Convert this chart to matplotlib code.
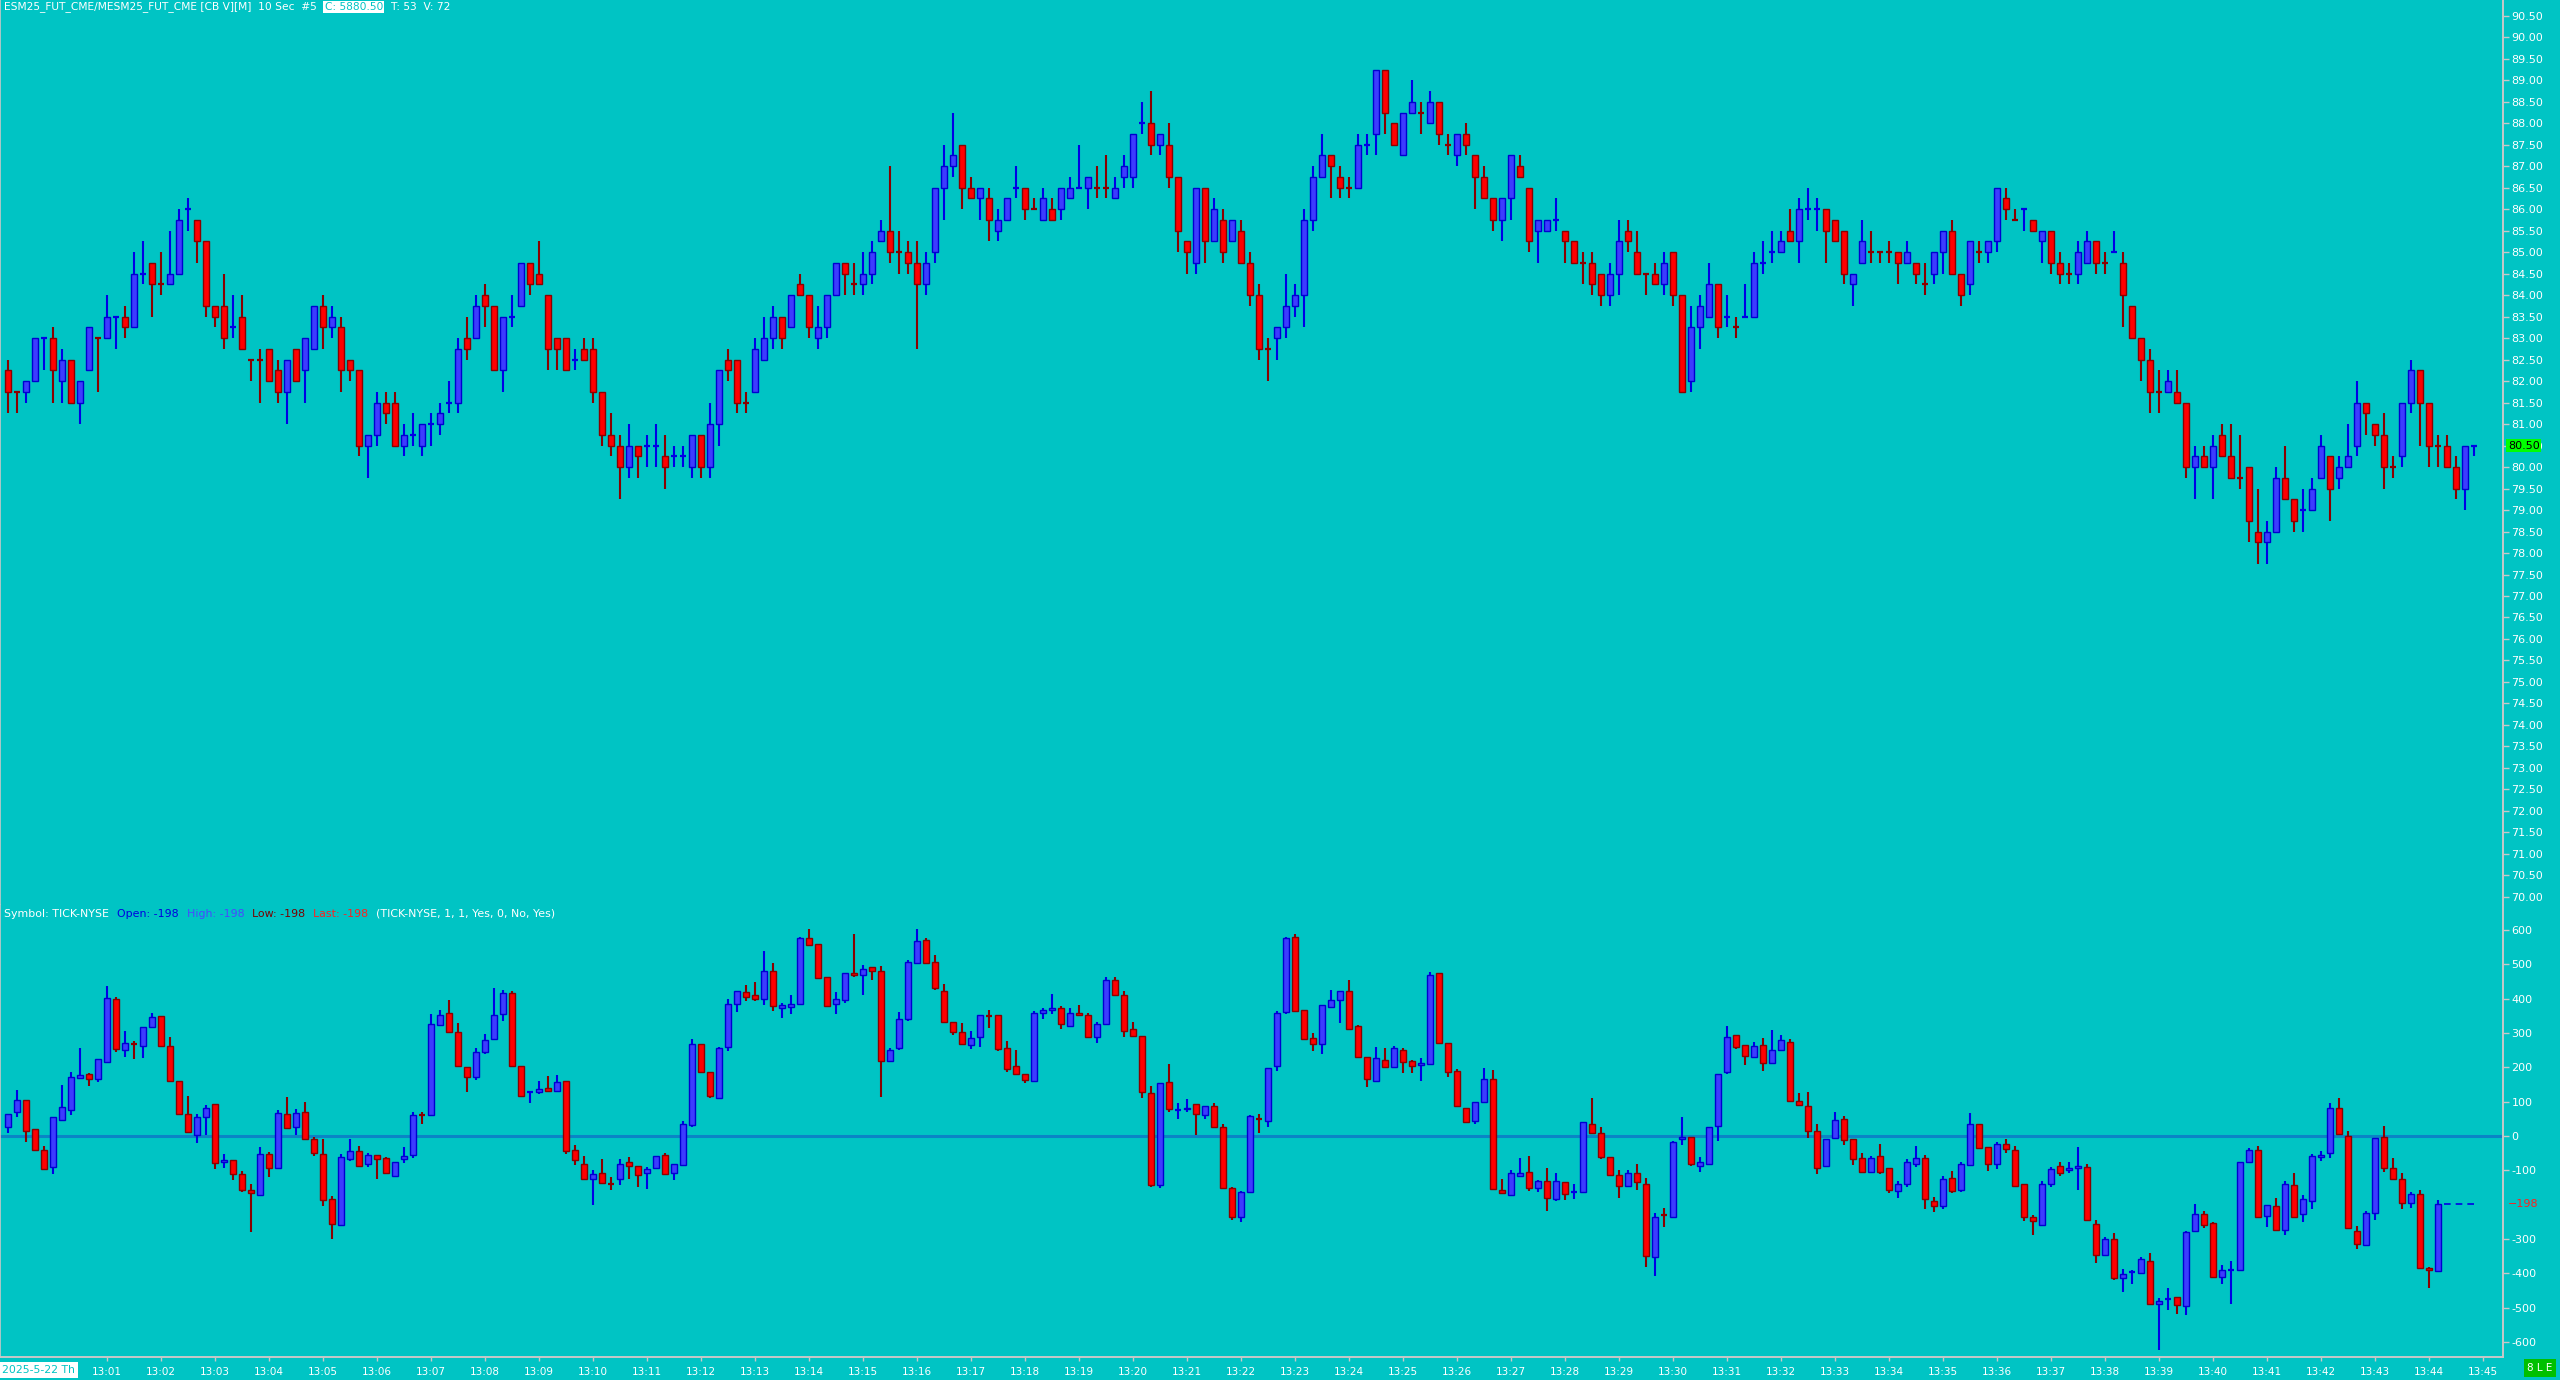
import numpy as np
import matplotlib
matplotlib.use("Agg")
import matplotlib.pyplot as plt
from matplotlib.transforms import blended_transform_factory

# ---- data -------------------------------------------------------------
# ES 10 sec bars, prices shown as the last two digits (base 5800)
price_base = 5800
p_open = [
    82.25, 81.75, 81.75, 82.0, 83.0, 83.0, 82.0, 82.50, 81.50, 82.25,
    83.0, 83.0, 83.50, 83.50, 83.25, 84.50, 84.75, 84.25, 84.25, 84.50,
    86.0, 85.75, 85.25, 83.75, 83.75, 83.25, 83.50, 82.50, 82.50, 82.75,
    82.25, 81.75, 82.75, 82.25, 82.75, 83.75, 83.25, 83.25, 82.50, 82.25,
    80.50, 80.75, 81.50, 81.50, 80.50, 80.75, 80.50, 81.0, 81.0, 81.50,
    81.50, 83.0, 83.0, 84.0, 83.75, 82.25, 83.50, 83.75, 84.75, 84.50,
    84.0, 83.0, 83.0, 82.50, 82.75, 82.75, 81.75, 80.75, 80.50, 80.0,
    80.50, 80.50, 80.50, 80.25, 80.25, 80.25, 80.0, 80.75, 80.0, 81.0,
    82.50, 82.50, 81.50, 81.75, 82.50, 83.0, 83.50, 83.25, 84.25, 84.0,
    83.0, 83.25, 84.0, 84.75, 84.25, 84.25, 84.50, 85.25, 85.50, 85.0,
    85.0, 84.75, 84.25, 85.0, 86.50, 87.0, 87.50, 86.50, 86.25, 86.25,
    85.50, 85.75, 86.50, 86.50, 86.0, 85.75, 86.0, 86.0, 86.25, 86.50,
    86.50, 86.50, 86.50, 86.25, 86.75, 86.75, 88.0, 88.0, 87.50, 87.50,
    86.75, 85.25, 84.75, 86.50, 85.25, 85.75, 85.25, 85.50, 84.75, 84.0,
    82.75, 83.0, 83.25, 83.75, 84.0, 85.75, 86.75, 87.25, 86.75, 86.50,
    86.50, 87.50, 87.75, 89.25, 88.0, 87.25, 88.25, 88.25, 88.0, 88.50,
    87.50, 87.25, 87.75, 87.25, 86.75, 86.25, 85.75, 86.25, 87.0, 86.50,
    85.50, 85.50, 85.75, 85.50, 85.25, 84.75, 84.75, 84.50, 84.0, 84.50,
    85.50, 85.0, 84.50, 84.50, 84.25, 85.0, 84.0, 82.0, 83.25, 83.50,
    84.25, 83.50, 83.25, 83.50, 83.50, 84.75, 85.0, 85.0, 85.50, 85.25,
    86.0, 86.0, 86.0, 85.75, 85.50, 84.25, 84.75, 85.0, 85.0, 85.0,
    85.0, 84.75, 84.75, 84.25, 84.50, 85.0, 85.50, 84.50, 84.25, 85.0,
    85.0, 85.25, 86.25, 85.75, 86.0, 85.75, 85.25, 85.50, 84.75, 84.50,
    84.50, 84.75, 85.25, 84.75, 85.0, 84.75, 83.75, 83.0, 82.50, 81.75,
    81.75, 81.75, 81.50, 80.0, 80.25, 80.0, 80.75, 80.25, 79.75, 80.0,
    78.50, 78.25, 78.50, 79.75, 79.25, 79.0, 79.0, 79.75, 80.25, 79.75,
    80.0, 80.50, 81.50, 81.0, 80.75, 80.0, 80.25, 81.50, 82.25, 81.50,
    80.50, 80.50, 80.0, 79.50, 80.50,
]
p_high = [
    82.50, 81.75, 82.0, 83.0, 83.0, 83.25, 82.75, 82.50, 82.0, 83.25,
    83.0, 84.0, 83.50, 83.75, 85.0, 85.25, 84.75, 85.0, 85.50, 86.0,
    86.25, 85.75, 85.25, 83.75, 84.50, 84.0, 84.0, 82.50, 82.75, 82.75,
    82.50, 82.50, 82.75, 83.0, 83.75, 84.0, 83.75, 83.50, 82.50, 82.25,
    80.75, 81.75, 81.75, 81.75, 81.0, 81.25, 81.0, 81.25, 81.50, 82.0,
    83.0, 83.50, 84.0, 84.25, 83.75, 83.50, 84.0, 84.75, 84.75, 85.25,
    84.0, 83.0, 83.0, 82.75, 83.0, 83.0, 81.75, 81.25, 80.75, 81.0,
    80.50, 80.75, 81.0, 80.75, 80.50, 80.50, 80.75, 80.75, 81.50, 82.25,
    82.75, 82.50, 81.75, 83.0, 83.50, 83.75, 83.50, 84.0, 84.50, 84.0,
    83.75, 84.0, 84.75, 84.75, 84.75, 85.0, 85.25, 85.75, 87.0, 85.50,
    85.25, 85.25, 85.0, 86.50, 87.50, 88.25, 87.50, 86.75, 86.50, 86.50,
    86.0, 86.25, 87.0, 86.50, 86.25, 86.50, 86.25, 86.50, 86.75, 87.50,
    86.75, 87.0, 87.25, 86.75, 87.25, 87.75, 88.50, 88.75, 87.75, 88.0,
    86.75, 85.25, 86.50, 86.50, 86.25, 86.0, 85.75, 85.75, 85.0, 84.25,
    83.0, 83.25, 84.50, 84.25, 86.0, 87.0, 87.75, 87.25, 87.0, 86.75,
    87.75, 87.75, 89.25, 89.25, 88.0, 88.25, 89.0, 88.50, 88.75, 88.50,
    87.75, 87.75, 88.0, 87.25, 87.0, 86.25, 86.25, 87.25, 87.25, 86.50,
    85.75, 85.75, 86.25, 85.50, 85.25, 85.0, 85.0, 84.50, 84.75, 85.75,
    85.75, 85.50, 84.50, 84.75, 85.0, 85.0, 84.0, 83.75, 84.0, 84.75,
    84.25, 84.0, 83.50, 84.25, 85.0, 85.25, 85.50, 85.50, 86.0, 86.25,
    86.50, 86.25, 86.0, 85.75, 85.50, 84.50, 85.75, 85.50, 85.0, 85.25,
    85.0, 85.25, 84.75, 84.75, 85.0, 85.50, 85.75, 84.50, 85.25, 85.25,
    85.25, 86.50, 86.50, 86.0, 86.0, 85.75, 85.50, 85.50, 85.0, 84.75,
    85.25, 85.50, 85.25, 85.0, 85.50, 85.0, 83.75, 83.0, 82.75, 82.25,
    82.25, 82.25, 81.50, 80.50, 80.50, 80.75, 81.0, 81.0, 80.75, 80.0,
    79.50, 78.75, 80.0, 80.50, 79.25, 79.50, 79.75, 80.75, 80.25, 80.25,
    81.0, 82.0, 81.50, 81.0, 81.25, 80.25, 81.50, 82.50, 82.25, 81.50,
    80.75, 80.75, 80.25, 80.50, 80.50,
]
p_low = [
    81.25, 81.25, 81.50, 82.0, 82.25, 81.50, 81.50, 81.50, 81.0, 82.25,
    81.75, 83.0, 82.75, 83.0, 83.25, 84.25, 83.50, 84.0, 84.25, 84.50,
    85.50, 84.75, 83.50, 83.25, 82.75, 83.0, 82.75, 82.0, 81.50, 82.0,
    81.50, 81.0, 82.0, 81.50, 82.75, 82.75, 83.0, 81.75, 82.0, 80.25,
    79.75, 80.50, 81.0, 80.50, 80.25, 80.50, 80.25, 80.50, 80.75, 81.25,
    81.25, 82.50, 83.0, 83.25, 82.25, 81.75, 83.25, 83.75, 84.0, 84.25,
    82.25, 82.25, 82.25, 82.25, 82.50, 81.50, 80.50, 80.25, 79.25, 79.75,
    79.75, 80.0, 80.0, 79.50, 80.0, 80.0, 79.75, 79.75, 79.75, 80.50,
    82.0, 81.25, 81.25, 81.75, 82.50, 82.75, 82.75, 83.25, 84.0, 83.0,
    82.75, 83.0, 84.0, 84.0, 84.0, 84.0, 84.25, 85.25, 84.75, 84.50,
    84.50, 82.75, 84.0, 84.75, 85.75, 86.75, 86.0, 86.25, 85.75, 85.25,
    85.25, 85.75, 86.25, 85.75, 86.0, 85.75, 85.75, 85.75, 86.25, 86.50,
    86.0, 86.25, 86.25, 86.25, 86.50, 86.50, 87.75, 87.25, 87.25, 86.50,
    85.0, 84.50, 84.50, 84.75, 85.25, 84.75, 85.25, 84.75, 83.75, 82.50,
    82.0, 82.50, 83.0, 83.50, 83.25, 85.50, 86.75, 86.25, 86.25, 86.25,
    86.50, 87.25, 87.25, 87.75, 87.50, 87.25, 88.25, 87.75, 88.0, 87.50,
    87.25, 87.0, 87.25, 86.0, 86.25, 85.50, 85.25, 85.75, 86.75, 85.0,
    84.75, 85.50, 85.50, 84.75, 84.75, 84.25, 84.0, 83.75, 83.75, 84.0,
    85.0, 84.50, 84.0, 84.25, 84.0, 83.75, 81.75, 81.75, 82.75, 83.50,
    83.0, 83.25, 83.0, 83.50, 83.50, 84.50, 84.75, 85.0, 85.25, 84.75,
    85.75, 85.50, 84.75, 85.25, 84.25, 83.75, 84.75, 84.75, 84.75, 84.75,
    84.25, 84.75, 84.25, 84.0, 84.25, 84.50, 84.50, 83.75, 84.0, 84.75,
    84.75, 85.0, 85.75, 85.75, 85.50, 85.50, 84.75, 84.50, 84.25, 84.25,
    84.25, 84.75, 84.50, 84.50, 85.0, 83.25, 83.0, 82.0, 81.25, 81.25,
    81.75, 81.50, 79.75, 79.25, 80.0, 79.25, 80.25, 79.75, 79.50, 78.25,
    77.75, 77.75, 78.50, 79.25, 78.50, 78.50, 79.0, 79.75, 78.75, 79.50,
    80.0, 80.25, 80.75, 80.50, 79.50, 79.75, 80.0, 81.25, 80.50, 80.0,
    80.0, 80.0, 79.25, 79.0, 80.25,
]
p_close = [
    81.75, 81.75, 82.0, 83.0, 83.0, 82.25, 82.50, 81.50, 82.0, 83.25,
    83.0, 83.50, 83.50, 83.25, 84.50, 84.50, 84.25, 84.25, 84.50, 85.75,
    86.0, 85.25, 83.75, 83.50, 83.0, 83.25, 82.75, 82.50, 82.50, 82.0,
    81.75, 82.50, 82.0, 83.0, 83.75, 83.25, 83.50, 82.25, 82.25, 80.50,
    80.75, 81.50, 81.25, 80.50, 80.75, 80.75, 81.0, 81.0, 81.25, 81.50,
    82.75, 82.75, 83.75, 83.75, 82.25, 83.50, 83.50, 84.75, 84.25, 84.25,
    82.75, 82.75, 82.25, 82.50, 82.50, 81.75, 80.75, 80.50, 80.0, 80.50,
    80.25, 80.50, 80.50, 80.0, 80.25, 80.25, 80.75, 80.0, 81.0, 82.25,
    82.25, 81.50, 81.50, 82.75, 83.0, 83.50, 83.0, 84.0, 84.0, 83.25,
    83.25, 84.0, 84.75, 84.50, 84.25, 84.50, 85.0, 85.50, 85.0, 85.0,
    84.75, 84.25, 84.75, 86.50, 87.0, 87.25, 86.50, 86.25, 86.50, 85.75,
    85.75, 86.25, 86.50, 86.0, 86.0, 86.25, 85.75, 86.50, 86.50, 86.50,
    86.75, 86.50, 86.50, 86.50, 87.0, 87.75, 88.0, 87.50, 87.75, 86.75,
    85.50, 85.0, 86.50, 85.25, 86.0, 85.0, 85.75, 84.75, 84.0, 82.75,
    82.75, 83.25, 83.75, 84.0, 85.75, 86.75, 87.25, 87.0, 86.50, 86.50,
    87.50, 87.50, 89.25, 88.25, 87.50, 88.25, 88.50, 88.25, 88.50, 87.75,
    87.50, 87.75, 87.50, 86.75, 86.25, 85.75, 86.25, 87.25, 86.75, 85.25,
    85.75, 85.75, 85.75, 85.25, 84.75, 84.75, 84.25, 84.0, 84.50, 85.25,
    85.25, 84.50, 84.50, 84.25, 84.75, 84.0, 81.75, 83.25, 83.75, 84.25,
    83.25, 83.50, 83.25, 83.50, 84.75, 84.75, 85.0, 85.25, 85.25, 86.0,
    86.0, 86.0, 85.50, 85.25, 84.50, 84.50, 85.25, 85.0, 85.0, 85.0,
    84.75, 85.0, 84.50, 84.25, 85.0, 85.50, 84.50, 84.0, 85.25, 85.0,
    85.25, 86.50, 86.0, 85.75, 86.0, 85.50, 85.50, 84.75, 84.50, 84.50,
    85.0, 85.25, 84.75, 84.75, 85.0, 84.0, 83.0, 82.50, 81.75, 81.75,
    82.0, 81.50, 80.0, 80.25, 80.0, 80.50, 80.25, 79.75, 79.75, 78.75,
    78.25, 78.50, 79.75, 79.25, 78.75, 79.0, 79.50, 80.50, 79.50, 80.0,
    80.25, 81.50, 81.25, 80.75, 80.0, 80.0, 81.50, 82.25, 81.50, 80.50,
    80.50, 80.0, 79.50, 80.50, 80.50,
]
# open == close bars that were printed in the up colour
p_doji_up = [4, 12, 15, 20, 25, 45, 47, 49, 56, 63, 71, 72, 74, 75, 112,
             119, 126, 151, 172, 191, 193, 195, 196, 200, 201, 224, 234,
             255, 274]

# TICK-NYSE, same 10 sec bars
t_open = [
    27, 69, 105, 19, -42, -91, 47, 77, 170, 182,
    167, 216, 399, 251, 267, 263, 318, 350, 263, 161,
    63, 4, 54, 92, -77, -71, -111, -156, -172, -53,
    -94, 63, 25, 71, -10, -53, -184, -259, -68, -44,
    -82, -56, -65, -117, -68, -56, 62, 60, 324, 358,
    303, 202, 173, 245, 283, 355, 416, 205, 127, 127,
    141, 132, 161, -42, -82, -126, -108, -140, -126, -76,
    -88, -108, -94, -56, -108, -85, 31, 269, 187, 112,
    260, 384, 419, 411, 399, 480, 373, 376, 384, 576,
    558, 463, 384, 396, 474, 469, 492, 480, 219, 257,
    341, 503, 570, 506, 422, 332, 303, 266, 289, 350,
    353, 257, 205, 182, 161, 358, 367, 373, 321, 358,
    353, 289, 327, 454, 411, 312, 292, 124, -143, 158,
    77, 80, 92, 60, 86, 25, -152, -236, -163, 51,
    45, 205, 361, 579, 367, 286, 269, 376, 396, 422,
    321, 231, 161, 222, 202, 251, 219, 208, 211, 474,
    271, 190, 83, 45, 100, 167, -157, -172, -117, -105,
    -152, -131, -184, -134, -163, -163, 34, 8, -62, -114,
    -146, -108, -140, -352, -231, -236, -10, -4, -88, -82,
    28, 187, 295, 266, 231, 266, 213, 251, 274, 103,
    86, 16, -88, -7, 51, -10, -65, -105, -59, -94,
    -160, -140, -82, -65, -189, -204, -123, -157, -85, 34,
    -33, -82, -24, -42, -140, -236, -259, -140, -88, -99,
    -94, -91, -256, -346, -299, -415, -395, -398, -363, -488,
    -476, -470, -494, -276, -227, -253, -412, -389, -389, -76,
    -42, -233, -204, -273, -143, -227, -189, -62, -50, 83,
    -1, -276, -317, -224, -4, -94, -126, -195, -169, -384,
    -392,
]
t_high = [
    65, 135, 105, 19, -30, 56, 150, 187, 257, 185,
    225, 437, 405, 306, 277, 318, 358, 350, 289, 161,
    118, 65, 91, 92, -53, -71, -102, -141, -33, -48,
    77, 115, 80, 100, -4, -10, -175, -53, -10, -30,
    -50, -56, -62, -76, -33, 71, 71, 355, 367, 396,
    329, 202, 257, 298, 431, 425, 422, 205, 129, 161,
    176, 179, 161, -27, -59, -100, -68, -120, -68, -62,
    -88, -91, -57, -50, -82, 45, 283, 269, 187, 260,
    399, 422, 440, 448, 538, 503, 387, 411, 580, 603,
    558, 463, 419, 474, 587, 497, 492, 495, 257, 361,
    512, 602, 576, 526, 442, 332, 329, 306, 353, 367,
    353, 277, 251, 182, 364, 373, 413, 379, 373, 382,
    358, 332, 463, 463, 422, 332, 292, 147, 153, 211,
    95, 109, 92, 86, 95, 34, -149, -160, 60, 63,
    199, 364, 579, 587, 367, 300, 382, 425, 422, 454,
    324, 231, 260, 257, 263, 257, 222, 228, 477, 474,
    271, 196, 83, 100, 199, 193, -126, -100, -65, -59,
    -128, -94, -108, -134, -140, 40, 112, 25, -62, -100,
    -100, -82, -123, -224, -210, -14, 54, -4, -62, 25,
    182, 321, 295, 266, 274, 286, 309, 295, 283, 124,
    129, 34, -10, 71, 57, -10, -50, -59, -24, -94,
    -131, -68, -30, -56, -178, -117, -102, -76, 66, 34,
    -33, -18, -10, -30, -140, -230, -131, -91, -76, -76,
    -33, -82, -244, -294, -282, -386, -389, -352, -340, -473,
    -444, -468, -276, -198, -218, -250, -375, -363, -76, -36,
    -30, -201, -181, -131, -108, -172, -53, -44, 95, 112,
    14, -262, -218, -7, 28, -65, -108, -163, -157, -381,
    -186,
]
t_low = [
    10, 56, -16, -42, -98, -112, 44, 62, 170, 146,
    157, 216, 244, 230, 225, 228, 315, 260, 157, 63,
    11, -19, 4, -95, -92, -127, -164, -280, -172, -118,
    -94, 22, 4, -10, -57, -205, -300, -259, -73, -88,
    -91, -124, -112, -117, -80, -65, 36, 60, 324, 303,
    205, 127, 164, 240, 283, 335, 205, 118, 95, 121,
    127, 132, -53, -83, -126, -201, -137, -157, -143, -126,
    -149, -153, -94, -114, -128, -85, 25, 184, 112, 112,
    248, 361, 393, 393, 382, 364, 344, 355, 384, 555,
    457, 379, 355, 387, 463, 411, 454, 115, 219, 251,
    335, 503, 503, 425, 332, 295, 269, 254, 260, 315,
    248, 187, 182, 153, 161, 341, 355, 312, 321, 350,
    286, 271, 324, 411, 289, 289, 112, -149, -152, 71,
    51, 69, 4, 51, 22, -155, -244, -250, -163, 10,
    25, 189, 355, 364, 283, 248, 240, 376, 329, 312,
    231, 144, 161, 202, 202, 185, 185, 161, 211, 271,
    173, 86, 40, 34, 95, -155, -166, -172, -117, -160,
    -163, -219, -190, -186, -184, -163, 5, -68, -117, -182,
    -146, -157, -381, -408, -266, -236, -25, -86, -106, -82,
    -14, 182, 254, 208, 231, 190, 213, 248, 98, 86,
    -7, -111, -91, -7, -27, -85, -105, -108, -111, -166,
    -181, -149, -91, -213, -222, -213, -166, -163, -85, -36,
    -102, -97, -50, -146, -247, -289, -259, -149, -117, -108,
    -157, -244, -369, -346, -418, -454, -431, -398, -488, -622,
    -506, -518, -521, -276, -268, -410, -431, -489, -389, -79,
    -236, -266, -276, -288, -236, -250, -213, -73, -65, 5,
    -268, -328, -317, -244, -105, -128, -213, -210, -384, -444,
    -392,
]
t_close = [
    65, 105, 14, -42, -95, 56, 85, 172, 178, 167,
    225, 402, 254, 271, 267, 318, 347, 263, 160, 63,
    11, 56, 83, -80, -71, -111, -156, -166, -53, -94,
    66, 22, 66, -10, -50, -186, -256, -62, -44, -88,
    -56, -68, -108, -76, -59, 60, 62, 326, 353, 303,
    205, 173, 245, 280, 353, 416, 205, 118, 127, 138,
    132, 156, -44, -71, -126, -111, -137, -140, -82, -88,
    -114, -97, -59, -111, -82, 34, 269, 186, 118, 257,
    384, 422, 405, 399, 480, 379, 382, 384, 576, 555,
    460, 379, 399, 474, 469, 486, 480, 219, 251, 341,
    506, 567, 503, 431, 332, 303, 269, 286, 353, 350,
    254, 196, 182, 164, 358, 367, 373, 327, 358, 353,
    289, 327, 454, 411, 306, 292, 127, -143, 153, 80,
    77, 83, 63, 86, 27, -152, -236, -163, 57, 51,
    199, 358, 576, 364, 283, 269, 382, 396, 422, 312,
    231, 167, 228, 202, 257, 216, 205, 213, 469, 271,
    187, 86, 40, 100, 167, -155, -166, -108, -108, -152,
    -131, -181, -131, -169, -163, 40, 8, -62, -114, -146,
    -108, -134, -349, -236, -231, -18, -4, -82, -76, 25,
    182, 289, 260, 234, 263, 213, 251, 280, 103, 89,
    16, -94, -10, 48, -13, -68, -105, -65, -105, -157,
    -140, -76, -65, -184, -204, -126, -160, -82, 34, -36,
    -82, -24, -39, -146, -236, -247, -140, -97, -108, -94,
    -88, -244, -346, -299, -415, -401, -395, -357, -488, -482,
    -476, -491, -279, -227, -259, -410, -389, -389, -76, -42,
    -236, -201, -273, -140, -236, -184, -59, -56, 83, 5,
    -268, -314, -224, -7, -94, -126, -195, -169, -384, -389,
    -198,
]
t_doji_up = [58, 130, 174, 236, 240, 247]

header_sym = "ESM25_FUT_CME/MESM25_FUT_CME [CB V][M]  10 Sec  #5"
header_trades, header_volume = 53, 72
session_date = "2025-5-22 Th"
minute_labels = ["13:%02d" % m for m in range(1, 46)]

# ---- style ------------------------------------------------------------
BG = "#00c4c4"
UP_BODY, UP_EDGE, UP_WICK = "#3c3cff", "#0000d0", "#0000e6"
DN_BODY, DN_EDGE, DN_WICK = "#ff0000", "#8b0000", "#8b0000"
AXIS_GRAY = "#c8c8c8"
TXT = "#ffffff"

W, H = 2560, 1380
AX_RIGHT = 2503
fig = plt.figure(figsize=(W / 100, H / 100), dpi=100)
fig.patch.set_facecolor(BG)


def rect(top, bottom):
    return [0, 1 - bottom / H, AX_RIGHT / W, (bottom - top) / H]


ax_p = fig.add_axes(rect(0, 905))
ax_t = fig.add_axes(rect(905, 1357))


def candles(ax, o, h, l, c, doji_up):
    o, h, l, c = map(np.asarray, (o, h, l, c))
    x = np.arange(len(o))
    doji = o == c
    up = (c > o) | (doji & np.isin(x, doji_up))
    for mask, body, edge, wick in ((up, UP_BODY, UP_EDGE, UP_WICK),
                                   (~up, DN_BODY, DN_EDGE, DN_WICK)):
        ax.vlines(x[mask], l[mask], h[mask], color=wick, lw=1.5, zorder=2)
        m = mask & ~doji
        ax.bar(x[m], np.abs(c - o)[m], bottom=np.minimum(o, c)[m], width=0.6,
               color=body, edgecolor=edge, linewidth=1.0, zorder=3)
        m = mask & doji
        ax.hlines(o[m], x[m] - 0.32, x[m] + 0.32, color=wick, lw=1.6, zorder=3)


candles(ax_p, p_open, p_high, p_low, p_close, p_doji_up)
candles(ax_t, t_open, t_high, t_low, t_close, t_doji_up)

x0, x1 = -8 / 9, (AX_RIGHT - 8) / 9
for ax in (ax_p, ax_t):
    ax.set_facecolor(BG)
    ax.set_xlim(x0, x1)
    for s in ("top", "bottom"):
        ax.spines[s].set_visible(False)
    ax.spines["left"].set_color(AXIS_GRAY)
    ax.spines["right"].set_color(AXIS_GRAY)
    ax.spines["left"].set_linewidth(1.2)
    ax.spines["right"].set_linewidth(1.4)
    ax.yaxis.tick_right()
    ax.tick_params(axis="y", colors=AXIS_GRAY, labelcolor=TXT, length=4,
                   width=1, pad=2, labelsize=8)
    ax.tick_params(axis="x", bottom=False, labelbottom=False)

# price scale
ax_p.set_ylim(69.81, 90.868)
pt = np.arange(70, 90.51, 0.5)
ax_p.set_yticks(pt)
ax_p.set_yticklabels([f"{v:.2f}" for v in pt])

# TICK scale
ax_t.set_ylim(-643.7, 672.9)
tt = [v for v in range(600, -601, -100) if v != -200]
ax_t.set_yticks(tt)
ax_t.set_yticklabels([str(v) for v in tt])
ax_t.axhline(0, color="#0a84c6", lw=2.2, zorder=1)
ax_t.spines["bottom"].set_visible(True)
ax_t.spines["bottom"].set_color(AXIS_GRAY)
ax_t.spines["bottom"].set_linewidth(1.4)

# time axis
mt = [11 + 6 * k for k in range(len(minute_labels))]
ax_t.set_xticks(mt)
ax_t.set_xticklabels(minute_labels)
ax_t.tick_params(axis="x", bottom=True, labelbottom=True, colors=AXIS_GRAY,
                 labelcolor=TXT, length=3, width=1, pad=4, labelsize=7.5)

# last values on the scales
ty_p = blended_transform_factory(ax_p.transAxes, ax_p.transData)
ax_p.text(1.0 + 5 / AX_RIGHT, p_close[-1], f"{p_close[-1]:.2f}", transform=ty_p,
          ha="left", va="center", fontsize=8, color="black", zorder=10,
          bbox=dict(boxstyle="square,pad=0.15", fc="#00ff00", ec="none"))
ty_t = blended_transform_factory(ax_t.transAxes, ax_t.transData)
ax_t.text(1.0 + 5 / AX_RIGHT, t_close[-1], f"\u2212{abs(t_close[-1])}", transform=ty_t,
          ha="left", va="center", fontsize=8, color="#ff2020", zorder=10)
ax_t.hlines(t_close[-1], len(t_close) - 1 + 0.7, len(p_close) - 1 + 0.3,
            color=UP_WICK, lw=1.2, linestyles=(0, (4, 3)), zorder=2)

# header lines
renderer = fig.canvas.get_renderer()


def chain(x, y, parts, size):
    for s, col, box in parts:
        t = fig.text(x / W, 1 - y / H, s, color=col, fontsize=size,
                     ha="left", va="center", bbox=box)
        x = t.get_window_extent(renderer=renderer).x1 + 8


white_box = dict(boxstyle="square,pad=0.12", fc="white", ec="none")
chain(4, 7, [(header_sym, TXT, None),
             (f"C: {price_base + p_close[-1]:.2f}", BG, white_box),
             (f"T: {header_trades}  V: {header_volume}", TXT, None)], 7.7)

lt = t_close[-1]
chain(4, 914, [("Symbol: TICK-NYSE", TXT, None),
               (f"Open: {lt}", "#0000e0", None),
               (f"High: {lt}", "#4848ff", None),
               (f"Low: {lt}", "#7a0000", None),
               (f"Last: {lt}", "#ff2020", None),
               ("(TICK-NYSE, 1, 1, Yes, 0, No, Yes)", TXT, None)], 7.9)

fig.text(2 / W, 1 - 1370 / H, session_date, fontsize=7.8, color=BG,
         ha="left", va="center",
         bbox=dict(boxstyle="square,pad=0.25", fc="white", ec="none"))
fig.text(2540 / W, 1 - 1368 / H, "8 L E", fontsize=7.5, color="white",
         ha="center", va="center",
         bbox=dict(boxstyle="square,pad=0.35", fc="#00c000", ec="none"))

fig.savefig("out.png", dpi=100, facecolor=BG)
